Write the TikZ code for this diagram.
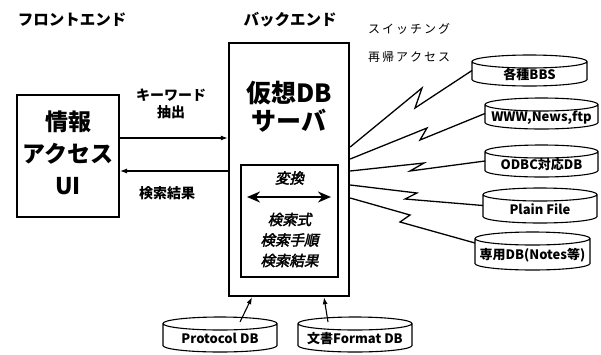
\documentclass[tikz,border=0pt]{standalone}
\usepackage{fontspec}
\setmainfont{Noto Sans CJK JP}
\newfontfamily\jpsl{Noto Sans CJK JP}[FakeSlant=0.22,FakeBold=2.5]
\usetikzlibrary{arrows.meta}
\newcommand\dbcyl[6]{% name, cx, cy, w, h, label
  \node[cylbody, minimum width=#4pt, minimum height=#5pt] (#1) at (#2,#3) {};
  \draw[cylline] ([yshift=-6.5pt]#1.north west) -- ([yshift=6.5pt]#1.south west)
    arc[start angle=180, end angle=360, x radius={(#4)*0.5pt}, y radius=6.5pt]
    -- ([yshift=-6.5pt]#1.north east)
    arc[start angle=0, end angle=360, x radius={(#4)*0.5pt}, y radius=6.5pt];
  \node[cyltext] (#1-t) at ([yshift=-4pt]#1.center) {#6};
}
\tikzset{
  cylbody/.style={inner sep=0pt, outer sep=0pt},
  cylline/.style={line width=1.1pt, fill=white},
  cyltext/.style={font=\bfseries\fontsize{13}{14}\selectfont, inner sep=0pt},
  boxa/.style={draw, line width=2pt, inner sep=0pt},
  boxb/.style={draw, line width=2.4pt, inner sep=0pt},
  boxc/.style={draw, line width=1.4pt, inner sep=0pt},
  arr/.style={-{Latex[length=7pt,width=5pt]}, line width=1.1pt},
  dblarr/.style={{Stealth[length=13pt,width=11pt]}-{Stealth[length=13pt,width=11pt]}, line width=2.6pt},
  bolt/.style={line width=1.3pt, line join=miter},
  head/.style={font=\bfseries\fontsize{15.5}{17}\selectfont, inner sep=0pt},
  lab/.style={font=\bfseries\fontsize{14}{17}\selectfont, inner sep=0pt, align=center},
  thin/.style={font=\fontsize{12}{14}\selectfont, inner sep=0pt, anchor=west},
  big/.style={font=\bfseries\fontsize{23}{32}\selectfont, inner sep=0pt, align=center},
  bigb/.style={font=\bfseries\fontsize{25}{28}\selectfont, inner sep=0pt, align=center},
  slt/.style={font=\jpsl\fontsize{14.5}{20.5}\selectfont, inner sep=0pt, align=center},
}
\begin{document}
\begin{tikzpicture}[x=1pt, y=-1pt]
\useasboundingbox (0,0) rectangle (601,354);

% headings
\node[head] (fe) at (72,20) {フロントエンド};
\node[head] (bkend) at (290,20) {バックエンド};
\node[thin] (sw) at (368,29) {ス\,イ\,ッ\,チ\,ン\,グ};
\node[thin] (rc) at (368,57) {再\,帰\,ア\,ク\,セ\,ス};

% front end box
\node[boxa, minimum width=102pt, minimum height=122pt] (ui) at (68,156) {};
\node[big] (uit) at (68,153) {情報\\アクセス\\UI};

% back end box
\node[boxb, minimum width=120pt, minimum height=253pt] (be) at (289,169.5) {};
\node[bigb] (bet) at (289,107) {仮想DB\\サーバ};
\node[boxc, fill=white, minimum width=97pt, minimum height=112pt] (inner) at (289.5,221) {};
\node[slt] (conv) at (289.5,178) {変換};
\coordinate (dl) at (247,197);
\coordinate (dr) at (331,197);
\draw[dblarr] (dl) -- (dr);
\node[slt] (it) at (289.5,240) {検索式\\検索手順\\検索結果};

% front-back arrows
\draw[arr] ([yshift=18pt]ui.east) -- ([yshift=18pt]ui.east -| be.west);
\draw[arr] ([yshift=-15pt]ui.east -| be.west) -- ([yshift=-15pt]ui.east);
\node[lab] (kw) at (171,104) {キーワード\\抽出};
\node[lab] (res) at (167,193) {検索結果};

% databases on the right
\dbcyl{bbs}{529.5}{70.5}{115}{31}{各種BBS}
\dbcyl{www}{541.5}{113.5}{113}{31}{WWW,News,ftp}
\dbcyl{odbc}{541.5}{161}{113}{32}{ODBC対応DB}
\dbcyl{plain}{540}{205.5}{114}{35}{Plain File}
\dbcyl{notes}{532.5}{251}{115}{38}{専用DB(Notes等)}

% bottom databases
\dbcyl{proto}{220}{334.5}{114}{35}{Protocol DB}
\dbcyl{fmt}{355}{334.5}{114}{35}{文書Format DB}

% lightning connectors
\draw[bolt] (be.east |- 0,147) -- (422,88) -- (415,108) -- (bbs.west);
\draw[bolt] (be.east |- 0,159) -- (427,128) -- (420,140) -- (www.west);
\draw[bolt] (be.east |- 0,171) -- (424,163) -- (410,171) -- (odbc.west);
\draw[bolt] (be.east |- 0,185) -- (417,193) -- (405,199) -- (plain.west);
\draw[bolt] (be.east |- 0,198) -- (410,215) -- (400,222) -- ([yshift=8pt]notes.west);

% bottom arrows
\draw[arr] ([xshift=20pt,yshift=-5pt]proto.north) -- (be.south -| 252,0);
\draw[arr] ([xshift=-27pt,yshift=-5pt]fmt.north) -- (be.south -| 324,0);
\end{tikzpicture}
\end{document}
